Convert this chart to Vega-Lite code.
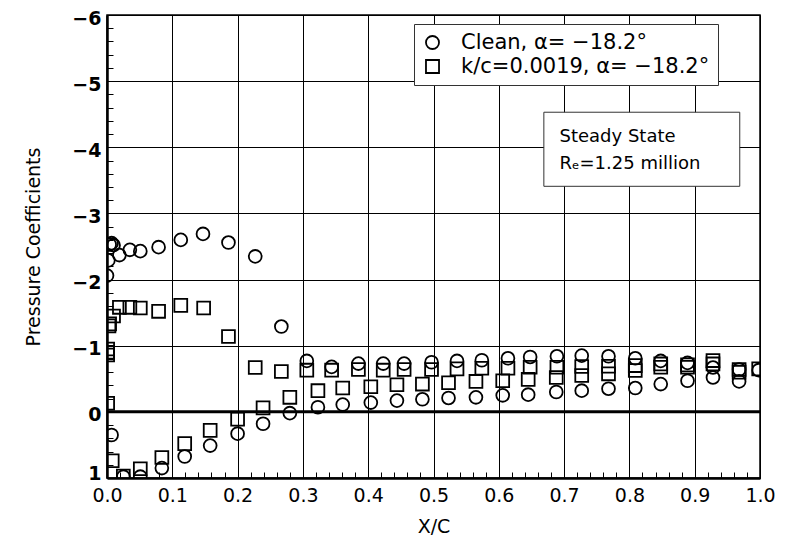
{
  "$schema": "https://vega.github.io/schema/vega-lite/v6.json",
  "width": 653,
  "height": 463,
  "autosize": {"type": "none"},
  "padding": {"left": 107, "top": 15, "right": 30, "bottom": 67},
  "background": "white",
  "config": {
    "font": "DejaVu Sans",
    "view": {"stroke": "black", "strokeWidth": 1.5},
    "axis": {
      "domainColor": "black",
      "domainWidth": 2.5,
      "tickColor": "black",
      "tickWidth": 1,
      "tickSize": -6,
      "tickCount": 1000,
      "gridColor": "black",
      "gridWidth": 1,
      "labelColor": "black",
      "labelFontSize": 19,
      "titleColor": "black",
      "titleFontSize": 19,
      "titleFontWeight": "normal",
      "labelOverlap": false,
      "labelFlush": false
    }
  },
  "layer": [
    {
      "data": {"values": [{}]},
      "mark": {"type": "rule", "color": "black", "strokeWidth": 3},
      "encoding": {"y": {"datum": 0, "type": "quantitative"}}
    },
    {
      "data": {
        "values": [
          {"series": "Clean, α= −18.2°", "x": 0.000, "y": -2.06},
          {"series": "Clean, α= −18.2°", "x": 0.002, "y": -2.29},
          {"series": "Clean, α= −18.2°", "x": 0.004, "y": -2.53},
          {"series": "Clean, α= −18.2°", "x": 0.007, "y": -2.55},
          {"series": "Clean, α= −18.2°", "x": 0.010, "y": -2.52},
          {"series": "Clean, α= −18.2°", "x": 0.019, "y": -2.37},
          {"series": "Clean, α= −18.2°", "x": 0.035, "y": -2.45},
          {"series": "Clean, α= −18.2°", "x": 0.051, "y": -2.43},
          {"series": "Clean, α= −18.2°", "x": 0.079, "y": -2.49},
          {"series": "Clean, α= −18.2°", "x": 0.113, "y": -2.60},
          {"series": "Clean, α= −18.2°", "x": 0.147, "y": -2.69},
          {"series": "Clean, α= −18.2°", "x": 0.186, "y": -2.56},
          {"series": "Clean, α= −18.2°", "x": 0.227, "y": -2.35},
          {"series": "Clean, α= −18.2°", "x": 0.267, "y": -1.29},
          {"series": "Clean, α= −18.2°", "x": 0.306, "y": -0.77},
          {"series": "Clean, α= −18.2°", "x": 0.344, "y": -0.68},
          {"series": "Clean, α= −18.2°", "x": 0.385, "y": -0.73},
          {"series": "Clean, α= −18.2°", "x": 0.423, "y": -0.73},
          {"series": "Clean, α= −18.2°", "x": 0.455, "y": -0.73},
          {"series": "Clean, α= −18.2°", "x": 0.497, "y": -0.75},
          {"series": "Clean, α= −18.2°", "x": 0.536, "y": -0.77},
          {"series": "Clean, α= −18.2°", "x": 0.574, "y": -0.78},
          {"series": "Clean, α= −18.2°", "x": 0.614, "y": -0.81},
          {"series": "Clean, α= −18.2°", "x": 0.648, "y": -0.83},
          {"series": "Clean, α= −18.2°", "x": 0.689, "y": -0.84},
          {"series": "Clean, α= −18.2°", "x": 0.727, "y": -0.85},
          {"series": "Clean, α= −18.2°", "x": 0.768, "y": -0.84},
          {"series": "Clean, α= −18.2°", "x": 0.809, "y": -0.81},
          {"series": "Clean, α= −18.2°", "x": 0.848, "y": -0.77},
          {"series": "Clean, α= −18.2°", "x": 0.889, "y": -0.74},
          {"series": "Clean, α= −18.2°", "x": 0.928, "y": -0.67},
          {"series": "Clean, α= −18.2°", "x": 0.968, "y": -0.64},
          {"series": "Clean, α= −18.2°", "x": 0.998, "y": -0.63},
          {"series": "Clean, α= −18.2°", "x": 0.007, "y": 0.35},
          {"series": "Clean, α= −18.2°", "x": 0.025, "y": 0.98},
          {"series": "Clean, α= −18.2°", "x": 0.051, "y": 0.98},
          {"series": "Clean, α= −18.2°", "x": 0.084, "y": 0.85},
          {"series": "Clean, α= −18.2°", "x": 0.119, "y": 0.675},
          {"series": "Clean, α= −18.2°", "x": 0.158, "y": 0.51},
          {"series": "Clean, α= −18.2°", "x": 0.200, "y": 0.33},
          {"series": "Clean, α= −18.2°", "x": 0.239, "y": 0.18},
          {"series": "Clean, α= −18.2°", "x": 0.280, "y": 0.02},
          {"series": "Clean, α= −18.2°", "x": 0.323, "y": -0.07},
          {"series": "Clean, α= −18.2°", "x": 0.361, "y": -0.11},
          {"series": "Clean, α= −18.2°", "x": 0.404, "y": -0.14},
          {"series": "Clean, α= −18.2°", "x": 0.444, "y": -0.17},
          {"series": "Clean, α= −18.2°", "x": 0.483, "y": -0.19},
          {"series": "Clean, α= −18.2°", "x": 0.523, "y": -0.21},
          {"series": "Clean, α= −18.2°", "x": 0.565, "y": -0.22},
          {"series": "Clean, α= −18.2°", "x": 0.606, "y": -0.25},
          {"series": "Clean, α= −18.2°", "x": 0.645, "y": -0.26},
          {"series": "Clean, α= −18.2°", "x": 0.688, "y": -0.30},
          {"series": "Clean, α= −18.2°", "x": 0.727, "y": -0.32},
          {"series": "Clean, α= −18.2°", "x": 0.768, "y": -0.35},
          {"series": "Clean, α= −18.2°", "x": 0.809, "y": -0.36},
          {"series": "Clean, α= −18.2°", "x": 0.848, "y": -0.42},
          {"series": "Clean, α= −18.2°", "x": 0.889, "y": -0.47},
          {"series": "Clean, α= −18.2°", "x": 0.928, "y": -0.52},
          {"series": "Clean, α= −18.2°", "x": 0.968, "y": -0.46},
          {"series": "k/c=0.0019, α= −18.2°", "x": 0.001, "y": -0.13},
          {"series": "k/c=0.0019, α= −18.2°", "x": 0.001, "y": -0.86},
          {"series": "k/c=0.0019, α= −18.2°", "x": 0.001, "y": -0.90},
          {"series": "k/c=0.0019, α= −18.2°", "x": 0.001, "y": -0.95},
          {"series": "k/c=0.0019, α= −18.2°", "x": 0.003, "y": -1.30},
          {"series": "k/c=0.0019, α= −18.2°", "x": 0.004, "y": -1.33},
          {"series": "k/c=0.0019, α= −18.2°", "x": 0.010, "y": -1.45},
          {"series": "k/c=0.0019, α= −18.2°", "x": 0.019, "y": -1.58},
          {"series": "k/c=0.0019, α= −18.2°", "x": 0.035, "y": -1.58},
          {"series": "k/c=0.0019, α= −18.2°", "x": 0.051, "y": -1.57},
          {"series": "k/c=0.0019, α= −18.2°", "x": 0.079, "y": -1.52},
          {"series": "k/c=0.0019, α= −18.2°", "x": 0.113, "y": -1.61},
          {"series": "k/c=0.0019, α= −18.2°", "x": 0.148, "y": -1.57},
          {"series": "k/c=0.0019, α= −18.2°", "x": 0.186, "y": -1.14},
          {"series": "k/c=0.0019, α= −18.2°", "x": 0.227, "y": -0.67},
          {"series": "k/c=0.0019, α= −18.2°", "x": 0.267, "y": -0.61},
          {"series": "k/c=0.0019, α= −18.2°", "x": 0.306, "y": -0.63},
          {"series": "k/c=0.0019, α= −18.2°", "x": 0.344, "y": -0.63},
          {"series": "k/c=0.0019, α= −18.2°", "x": 0.385, "y": -0.64},
          {"series": "k/c=0.0019, α= −18.2°", "x": 0.423, "y": -0.63},
          {"series": "k/c=0.0019, α= −18.2°", "x": 0.455, "y": -0.64},
          {"series": "k/c=0.0019, α= −18.2°", "x": 0.497, "y": -0.64},
          {"series": "k/c=0.0019, α= −18.2°", "x": 0.536, "y": -0.65},
          {"series": "k/c=0.0019, α= −18.2°", "x": 0.574, "y": -0.66},
          {"series": "k/c=0.0019, α= −18.2°", "x": 0.614, "y": -0.66},
          {"series": "k/c=0.0019, α= −18.2°", "x": 0.648, "y": -0.675},
          {"series": "k/c=0.0019, α= −18.2°", "x": 0.689, "y": -0.675},
          {"series": "k/c=0.0019, α= −18.2°", "x": 0.727, "y": -0.685},
          {"series": "k/c=0.0019, α= −18.2°", "x": 0.768, "y": -0.69},
          {"series": "k/c=0.0019, α= −18.2°", "x": 0.809, "y": -0.70},
          {"series": "k/c=0.0019, α= −18.2°", "x": 0.848, "y": -0.725},
          {"series": "k/c=0.0019, α= −18.2°", "x": 0.889, "y": -0.71},
          {"series": "k/c=0.0019, α= −18.2°", "x": 0.928, "y": -0.775},
          {"series": "k/c=0.0019, α= −18.2°", "x": 0.968, "y": -0.64},
          {"series": "k/c=0.0019, α= −18.2°", "x": 0.998, "y": -0.65},
          {"series": "k/c=0.0019, α= −18.2°", "x": 0.008, "y": 0.74},
          {"series": "k/c=0.0019, α= −18.2°", "x": 0.025, "y": 0.97},
          {"series": "k/c=0.0019, α= −18.2°", "x": 0.051, "y": 0.86},
          {"series": "k/c=0.0019, α= −18.2°", "x": 0.084, "y": 0.69},
          {"series": "k/c=0.0019, α= −18.2°", "x": 0.119, "y": 0.48},
          {"series": "k/c=0.0019, α= −18.2°", "x": 0.158, "y": 0.28},
          {"series": "k/c=0.0019, α= −18.2°", "x": 0.200, "y": 0.11},
          {"series": "k/c=0.0019, α= −18.2°", "x": 0.239, "y": -0.06},
          {"series": "k/c=0.0019, α= −18.2°", "x": 0.280, "y": -0.22},
          {"series": "k/c=0.0019, α= −18.2°", "x": 0.323, "y": -0.32},
          {"series": "k/c=0.0019, α= −18.2°", "x": 0.361, "y": -0.36},
          {"series": "k/c=0.0019, α= −18.2°", "x": 0.404, "y": -0.38},
          {"series": "k/c=0.0019, α= −18.2°", "x": 0.444, "y": -0.41},
          {"series": "k/c=0.0019, α= −18.2°", "x": 0.483, "y": -0.42},
          {"series": "k/c=0.0019, α= −18.2°", "x": 0.523, "y": -0.44},
          {"series": "k/c=0.0019, α= −18.2°", "x": 0.565, "y": -0.46},
          {"series": "k/c=0.0019, α= −18.2°", "x": 0.606, "y": -0.47},
          {"series": "k/c=0.0019, α= −18.2°", "x": 0.645, "y": -0.49},
          {"series": "k/c=0.0019, α= −18.2°", "x": 0.688, "y": -0.52},
          {"series": "k/c=0.0019, α= −18.2°", "x": 0.727, "y": -0.55},
          {"series": "k/c=0.0019, α= −18.2°", "x": 0.768, "y": -0.575},
          {"series": "k/c=0.0019, α= −18.2°", "x": 0.809, "y": -0.625},
          {"series": "k/c=0.0019, α= −18.2°", "x": 0.848, "y": -0.675},
          {"series": "k/c=0.0019, α= −18.2°", "x": 0.889, "y": -0.675},
          {"series": "k/c=0.0019, α= −18.2°", "x": 0.928, "y": -0.725},
          {"series": "k/c=0.0019, α= −18.2°", "x": 0.968, "y": -0.60}
        ]
      },
      "mark": {"type": "point", "filled": false, "color": "black", "strokeWidth": 1.8, "size": 165, "opacity": 1, "clip": true},
      "encoding": {
        "x": {
          "field": "x", "type": "quantitative",
          "scale": {"domain": [0, 1], "nice": false, "zero": false},
          "axis": {
            "title": "X/C",
            "titlePadding": 12,
            "values": [0, 0.02, 0.04, 0.06, 0.08, 0.1, 0.12, 0.14, 0.16, 0.18, 0.2, 0.22, 0.24, 0.26, 0.28, 0.3, 0.32, 0.34, 0.36, 0.38, 0.4, 0.42, 0.44, 0.46, 0.48, 0.5, 0.52, 0.54, 0.56, 0.58, 0.6, 0.62, 0.64, 0.66, 0.68, 0.7, 0.72, 0.74, 0.76, 0.78, 0.8, 0.82, 0.84, 0.86, 0.88, 0.9, 0.92, 0.94, 0.96, 0.98, 1],
            "labelExpr": "abs(datum.value*10 - round(datum.value*10)) < 0.001 ? format(datum.value, '.1f') : ''",
            "labelPadding": 14,
            "grid": true,
            "gridOpacity": {"condition": {"test": "abs(datum.value*10 - round(datum.value*10)) < 0.001", "value": 1}, "value": 0}
          }
        },
        "y": {
          "field": "y", "type": "quantitative",
          "scale": {"domain": [-6, 1], "reverse": true, "nice": false, "zero": false},
          "axis": {
            "title": "Pressure Coefficients",
            "titlePadding": 28,
            "values": [-6, -5.8, -5.6, -5.4, -5.2, -5, -4.8, -4.6, -4.4, -4.2, -4, -3.8, -3.6, -3.4, -3.2, -3, -2.8, -2.6, -2.4, -2.2, -2, -1.8, -1.6, -1.4, -1.2, -1, -0.8, -0.6, -0.4, -0.2, 0, 0.2, 0.4, 0.6, 0.8, 1],
            "labelExpr": "abs(datum.value - round(datum.value)) < 0.001 ? replace(format(datum.value, 'd'), '-', '−') : ''",
            "labelPadding": 12,
            "labelFontWeight": "bold",
            "labelOffset": {"condition": {"test": "datum.value > 0.5", "value": -5}, "value": 3},
            "grid": true,
            "gridOpacity": {"condition": {"test": "abs(datum.value - round(datum.value)) < 0.001", "value": 1}, "value": 0}
          }
        },
        "shape": {
          "field": "series", "type": "nominal",
          "scale": {"domain": ["Clean, α= −18.2°", "k/c=0.0019, α= −18.2°"], "range": ["circle", "square"]},
          "legend": {
            "title": null,
            "orient": "none",
            "legendX": 307,
            "legendY": 9,
            "fillColor": "white",
            "strokeColor": "#333333",
            "padding": 8,
            "labelFontSize": 21,
            "labelColor": "black",
            "labelOffset": 18,
            "symbolSize": 170,
            "symbolStrokeColor": "black",
            "symbolStrokeWidth": 1.8,
            "rowPadding": 2,
            "labelLimit": 400
          }
        }
      }
    },
    {
      "data": {"values": [{}]},
      "mark": {"type": "rect", "fill": "white", "stroke": "#333333", "strokeWidth": 1},
      "encoding": {
        "x": {"datum": 0.669, "type": "quantitative"},
        "x2": {"datum": 0.969},
        "y": {"datum": -4.53, "type": "quantitative"},
        "y2": {"datum": -3.41}
      }
    },
    {
      "data": {"values": [{"label": "Steady State", "lx": 0.693, "ly": -4.15}, {"label": "Rₑ=1.25 million", "lx": 0.693, "ly": -3.75}]},
      "mark": {"type": "text", "align": "left", "baseline": "middle", "fontSize": 18, "color": "black"},
      "encoding": {
        "x": {"field": "lx", "type": "quantitative"},
        "y": {"field": "ly", "type": "quantitative"},
        "text": {"field": "label", "type": "nominal"}
      }
    }
  ]
}
